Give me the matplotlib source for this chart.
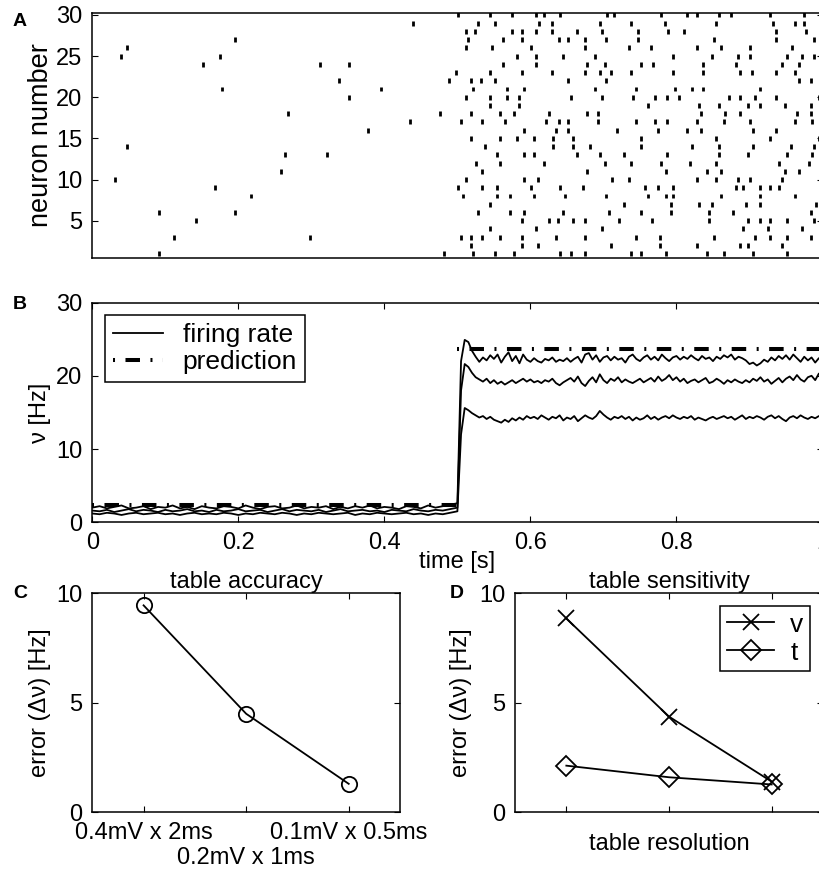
import numpy as np
import matplotlib
matplotlib.use('Agg')
import matplotlib.pyplot as plt

plt.rcParams.update({
    'font.family': ['Liberation Sans', 'DejaVu Sans'],
    'font.size': 17,
    'axes.linewidth': 1.1,
    'xtick.direction': 'in',
    'ytick.direction': 'in',
    'xtick.top': True,
    'ytick.right': True,
    'xtick.major.size': 4,
    'ytick.major.size': 4,
    'xtick.major.pad': 7,
    'ytick.major.pad': 7,
})

# ---- A: raster, spike times [s] per neuron (neuron 1 .. 30)
spike_times = [
    [0.092, 0.481, 0.522, 0.551, 0.578, 0.641, 0.655, 0.675, 0.738, 0.752, 0.785, 0.842, 0.865, 0.905, 0.951],
    [0.518, 0.588, 0.611, 0.711, 0.778, 0.828, 0.887, 0.898, 0.945],
    [0.112, 0.298, 0.505, 0.518, 0.534, 0.559, 0.588, 0.635, 0.675, 0.744, 0.778, 0.851, 0.908, 0.928, 0.951, 0.984],
    [0.545, 0.608, 0.698, 0.891, 0.925, 0.972],
    [0.142, 0.588, 0.625, 0.638, 0.658, 0.675, 0.721, 0.766, 0.844, 0.898, 0.915, 0.928, 0.951, 0.988],
    [0.092, 0.196, 0.528, 0.572, 0.591, 0.645, 0.707, 0.752, 0.792, 0.844, 0.878, 0.984],
    [0.545, 0.728, 0.792, 0.831, 0.848, 0.895, 0.915, 0.991],
    [0.218, 0.508, 0.554, 0.572, 0.605, 0.648, 0.704, 0.761, 0.785, 0.795, 0.861, 0.915, 0.962],
    [0.168, 0.501, 0.534, 0.554, 0.601, 0.641, 0.672, 0.757, 0.775, 0.795, 0.881, 0.891, 0.915, 0.928, 0.941],
    [0.031, 0.512, 0.591, 0.611, 0.712, 0.735, 0.828, 0.854, 0.884, 0.901, 0.945],
    [0.259, 0.534, 0.678, 0.785, 0.842, 0.861, 0.948, 0.968],
    [0.525, 0.559, 0.618, 0.702, 0.738, 0.779, 0.818, 0.854, 0.941, 0.981],
    [0.264, 0.322, 0.554, 0.591, 0.605, 0.664, 0.695, 0.728, 0.787, 0.858, 0.898, 0.951, 0.986],
    [0.048, 0.538, 0.631, 0.658, 0.681, 0.752, 0.821, 0.858, 0.905, 0.957, 0.989],
    [0.518, 0.559, 0.582, 0.605, 0.631, 0.658, 0.752, 0.854, 0.928, 0.995],
    [0.378, 0.591, 0.635, 0.652, 0.718, 0.775, 0.815, 0.834, 0.905, 0.937],
    [0.435, 0.505, 0.534, 0.565, 0.621, 0.639, 0.652, 0.692, 0.744, 0.770, 0.787, 0.828, 0.865, 0.901, 0.962, 0.986],
    [0.268, 0.476, 0.518, 0.559, 0.578, 0.625, 0.678, 0.692, 0.834, 0.867, 0.887, 0.965, 0.984],
    [0.545, 0.585, 0.761, 0.831, 0.858, 0.898, 0.915, 0.948, 0.984],
    [0.352, 0.512, 0.545, 0.568, 0.585, 0.655, 0.698, 0.741, 0.771, 0.787, 0.804, 0.872, 0.887, 0.908, 0.937, 0.995],
    [0.178, 0.395, 0.522, 0.568, 0.591, 0.689, 0.744, 0.798, 0.821, 0.837, 0.915],
    [0.338, 0.488, 0.518, 0.532, 0.551, 0.652, 0.704, 0.968, 0.984],
    [0.498, 0.545, 0.588, 0.629, 0.675, 0.695, 0.711, 0.738, 0.795, 0.837, 0.887, 0.904, 0.936, 0.962],
    [0.152, 0.312, 0.352, 0.562, 0.608, 0.678, 0.702, 0.752, 0.768, 0.837, 0.881, 0.945, 0.968],
    [0.039, 0.175, 0.582, 0.608, 0.645, 0.689, 0.795, 0.848, 0.884, 0.901, 0.951, 0.972, 0.989],
    [0.048, 0.512, 0.548, 0.601, 0.675, 0.735, 0.765, 0.828, 0.861, 0.901, 0.958],
    [0.196, 0.515, 0.562, 0.588, 0.639, 0.652, 0.675, 0.704, 0.748, 0.851, 0.937, 0.989],
    [0.512, 0.524, 0.575, 0.588, 0.608, 0.629, 0.664, 0.698, 0.748, 0.788, 0.811, 0.937, 0.978],
    [0.439, 0.528, 0.551, 0.612, 0.629, 0.695, 0.738, 0.784, 0.854, 0.932, 0.962, 0.975],
    [0.501, 0.545, 0.575, 0.608, 0.618, 0.641, 0.705, 0.714, 0.779, 0.815, 0.828, 0.858, 0.875, 0.928, 0.975],
]
neuron_ids = np.arange(1, 31)

# ---- B: population firing rates [Hz]
t_pre = np.round(np.arange(0.0, 0.5001, 0.01), 3)      # 0 .. 0.5
t_post = np.round(np.arange(0.505, 1.0001, 0.005), 3)  # 0.505 .. 1.0
rate_t = np.concatenate([t_pre, t_post])

rate_high = [
    2.0, 2.2, 1.9, 2.1, 2.3, 1.9, 2.0, 2.2, 1.8, 2.1,
    2.0, 2.3, 1.9, 2.1, 1.8, 2.2, 2.0, 1.9, 2.2, 2.1,
    1.9, 2.3, 2.0, 1.8, 2.1, 2.2, 1.9, 2.0, 2.3, 1.9,
    2.1, 2.0, 2.2, 1.8, 2.1, 1.9, 2.2, 2.0, 2.3, 1.9,
    2.1, 2.0, 1.8, 2.2, 2.1, 1.9, 2.3, 2.0, 2.2, 2.4, 2.6,
    22.0, 24.9, 24.6, 23.4, 22.6, 21.9, 22.5, 22.1, 22.8, 22.3,
    22.9, 21.8, 22.6, 23.2, 22.0, 22.7, 21.7, 22.9, 22.2, 21.9,
    22.4, 22.0, 21.8, 22.3, 22.1, 22.5, 21.9, 22.2, 22.0, 22.4,
    21.9, 22.3, 22.6, 21.8, 22.9, 23.1, 22.2, 22.8, 21.9, 22.5,
    22.7, 22.1, 22.6, 22.2, 22.4, 21.8, 22.6, 22.9, 22.3, 22.0,
    22.5, 22.8, 22.2, 22.6, 22.1, 22.9, 22.4, 22.0, 22.5, 22.7,
    22.2, 22.6, 22.3, 22.8, 22.4, 22.1, 22.7, 22.3, 22.5, 22.0,
    22.6, 22.3, 22.8, 22.5, 22.9, 22.2, 22.6, 22.4, 22.1, 21.6,
    21.8, 21.4, 21.7, 22.2, 21.9, 22.5, 22.1, 22.7, 22.3, 22.8,
    22.2, 22.9, 22.4, 21.9, 22.6, 22.1, 22.5, 21.8, 22.4, 22.0,
]
rate_mid = [
    1.6, 1.5, 1.7, 1.4, 1.6, 1.8, 1.5, 1.7, 1.6, 1.4,
    1.7, 1.5, 1.6, 1.8, 1.5, 1.6, 1.4, 1.7, 1.5, 1.6,
    1.8, 1.5, 1.6, 1.7, 1.4, 1.6, 1.8, 1.5, 1.7, 1.6,
    1.5, 1.7, 1.4, 1.6, 1.8, 1.5, 1.6, 1.7, 1.5, 1.6,
    1.4, 1.7, 1.6, 1.5, 1.8, 1.6, 1.5, 1.7, 1.6, 1.8, 2.0,
    18.0, 21.6, 21.2, 20.4, 19.8, 19.5, 19.2, 19.6, 19.0, 19.4,
    18.9, 19.2, 18.8, 19.1, 19.4, 19.0, 19.3, 19.6, 19.2, 19.5,
    19.1, 19.3, 19.0, 19.4, 19.2, 19.6, 19.0, 18.7, 19.1, 19.4,
    19.7, 19.2, 19.9, 19.0, 18.6, 19.3, 19.8, 19.1, 20.2, 19.4,
    19.0, 19.6, 19.3, 19.8, 19.1, 19.5, 19.2, 19.0, 19.3, 19.6,
    19.1, 19.4, 19.7, 19.2, 19.9, 19.3, 19.6, 20.1, 19.4, 19.8,
    19.2, 19.6, 19.0, 19.3, 19.5, 19.1, 19.4, 19.7, 19.0, 19.2,
    19.6, 19.3, 18.9, 19.4, 19.1, 19.5, 19.2, 19.0, 19.4, 19.1,
    19.6, 19.3, 19.8, 19.2, 19.5, 18.9, 19.3, 19.7, 19.1, 19.6,
    19.9, 19.4, 20.1, 19.5, 19.2, 19.8, 20.0, 19.4, 20.3, 19.9,
]
rate_low = [
    1.2, 1.1, 1.3, 1.2, 1.0, 1.2, 1.3, 1.1, 1.2, 1.3,
    1.1, 1.2, 1.0, 1.2, 1.3, 1.1, 1.2, 1.1, 1.3, 1.2,
    1.0, 1.2, 1.1, 1.3, 1.2, 1.1, 1.3, 1.2, 1.0, 1.2,
    1.1, 1.3, 1.2, 1.1, 1.2, 1.3, 1.0, 1.2, 1.1, 1.3,
    1.2, 1.1, 1.2, 1.3, 1.1, 1.2, 1.0, 1.2, 1.1, 1.3, 1.5,
    12.0, 15.6, 15.3, 14.9, 14.6, 14.3, 14.5, 14.1, 14.4, 14.0,
    13.8, 13.6, 14.0, 13.7, 14.2, 13.9, 14.3, 14.0, 14.5, 14.2,
    14.4, 14.1, 14.6, 14.3, 14.0, 14.4, 14.2, 14.6, 13.9, 14.3,
    14.1, 14.5, 13.8, 14.2, 14.6, 14.3, 14.1, 14.5, 15.2, 14.7,
    14.3, 14.0, 14.4, 14.2, 14.5, 14.1, 14.4, 13.9, 14.3, 14.0,
    14.2, 14.6, 14.1, 14.4, 14.0, 14.3, 14.5, 14.2, 14.6, 14.3,
    14.1, 14.4, 14.2, 14.5, 14.0, 14.3, 14.1, 13.9, 14.2, 14.4,
    14.1, 14.3, 14.5, 14.2, 14.4, 14.0, 14.3, 14.6, 14.1, 14.4,
    14.2, 14.5, 14.3, 14.0, 14.4, 14.6, 14.2, 14.5, 14.1, 13.8,
    14.3, 14.5, 14.2, 14.6, 14.3, 14.1, 14.4, 14.2, 14.5, 14.3,
]

pred_t_pre = [0.0, 0.5]
pred_pre = [2.4, 2.4]
pred_t_post = [0.5, 1.0]
pred_post = [23.6, 23.6]

# ---- C / D: errors [Hz]
settings = [1, 2, 3]
accuracy_labels = ['0.4mV x 2ms', '0.2mV x 1ms', '0.1mV x 0.5ms']
err_accuracy = [9.45, 4.5, 1.3]
err_sens_v = [8.85, 4.37, 1.4]
err_sens_t = [2.13, 1.6, 1.27]

W, H = 820, 877
fig = plt.figure(figsize=(W / 100, H / 100), dpi=100)


def px_axes(left, top, right, bottom):
    return fig.add_axes([left / W, 1 - bottom / H, (right - left) / W, (bottom - top) / H])


pred_style = dict(color='k', lw=2.9, dashes=(0.5, 2.6, 3.6, 2.6), dash_capstyle='butt')

# A
axA = px_axes(92.3, 13.3, 822.5, 257.7)
axA.eventplot(spike_times, lineoffsets=neuron_ids, linelengths=0.6, linewidths=2, colors='k')
axA.set_xlim(0, 1)
axA.set_ylim(0.5, 30.2)
axA.set_xticks([])
axA.set_yticks([5, 10, 15, 20, 25, 30])
axA.set_ylabel('neuron number', fontsize=19.5)
axA.yaxis.set_label_coords(-0.053, 0.5)

# B
axB = px_axes(92.3, 302.5, 822.5, 522.3)
axB.plot(rate_t, rate_high, color='k', lw=1.3, label='firing rate')
axB.plot(rate_t, rate_mid, color='k', lw=1.3)
axB.plot(rate_t, rate_low, color='k', lw=1.3)
axB.plot(pred_t_pre, pred_pre, label='prediction', **pred_style)
axB.plot(pred_t_post, pred_post, **pred_style)
axB.set_xlim(0, 1)
axB.set_ylim(0, 30)
axB.set_xticks([0, 0.2, 0.4, 0.6, 0.8, 1])
axB.set_xticklabels(['0', '0.2', '0.4', '0.6', '0.8', '1'])
axB.set_yticks([0, 10, 20, 30])
axB.set_xlabel('time [s]', labelpad=-2)
axB.set_ylabel('ν [Hz]')
axB.yaxis.set_label_coords(-0.056, 0.5)
legB = axB.legend(loc='upper left', bbox_to_anchor=(0.017, 0.943), borderaxespad=0,
                  fontsize=19, fancybox=False, edgecolor='k', framealpha=1,
                  handlelength=1.9, handletextpad=0.75, borderpad=0.3, labelspacing=0.12)
legB.get_frame().set_linewidth(1.1)

# C  (middle tick label sits on a second row)
axC = px_axes(92.3, 593.3, 400, 812.3)
axC.plot(settings, err_accuracy, color='k', lw=1.3, marker='o', markersize=11,
         markerfacecolor='none', markeredgewidth=1.3)
axC.set_xlim(0.5, 3.5)
axC.set_ylim(0, 10)
axC.set_xticks([settings[0], settings[2]])
axC.set_xticklabels([accuracy_labels[0], accuracy_labels[2]])
axC.set_xticks([settings[1]], minor=True)
axC.set_xticklabels([accuracy_labels[1]], minor=True)
axC.tick_params(axis='x', which='minor', length=4, width=0.8, pad=25)
axC.set_yticks([0, 5, 10])
axC.set_title('table accuracy', pad=3, fontsize=17)
axC.set_ylabel('error (Δν) [Hz]')
axC.yaxis.set_label_coords(-0.133, 0.5)

# D
axD = px_axes(515, 593.3, 823, 812.3)
axD.plot(settings, err_sens_v, color='k', lw=1.3, marker='x', markersize=11,
         markeredgewidth=1.3, label='v')
axD.plot(settings, err_sens_t, color='k', lw=1.3, marker='D', markersize=10,
         markerfacecolor='none', markeredgewidth=1.3, label='t')
axD.set_xlim(0.5, 3.5)
axD.set_ylim(0, 10)
axD.set_xticks(settings)
axD.set_xticklabels([])
axD.set_yticks([0, 5, 10])
axD.set_title('table sensitivity', pad=3, fontsize=17)
axD.set_xlabel('table resolution', labelpad=8)
axD.set_ylabel('error (Δν) [Hz]')
axD.yaxis.set_label_coords(-0.14, 0.5)
legD = axD.legend(loc='upper right', bbox_to_anchor=(0.958, 0.942), borderaxespad=0,
                  fontsize=19, fancybox=False, edgecolor='k', framealpha=1,
                  handlelength=1.8, handletextpad=0.6, borderpad=0.25, labelspacing=0.15)
legD.get_frame().set_linewidth(1.1)

# panel letters
for letter, x, y in [('A', 13, 13), ('B', 13, 296), ('C', 13, 585), ('D', 450, 585)]:
    fig.text(x / W, 1 - y / H, letter, fontsize=14, fontweight='bold', ha='left', va='top')

fig.savefig('out.png', dpi=100)
